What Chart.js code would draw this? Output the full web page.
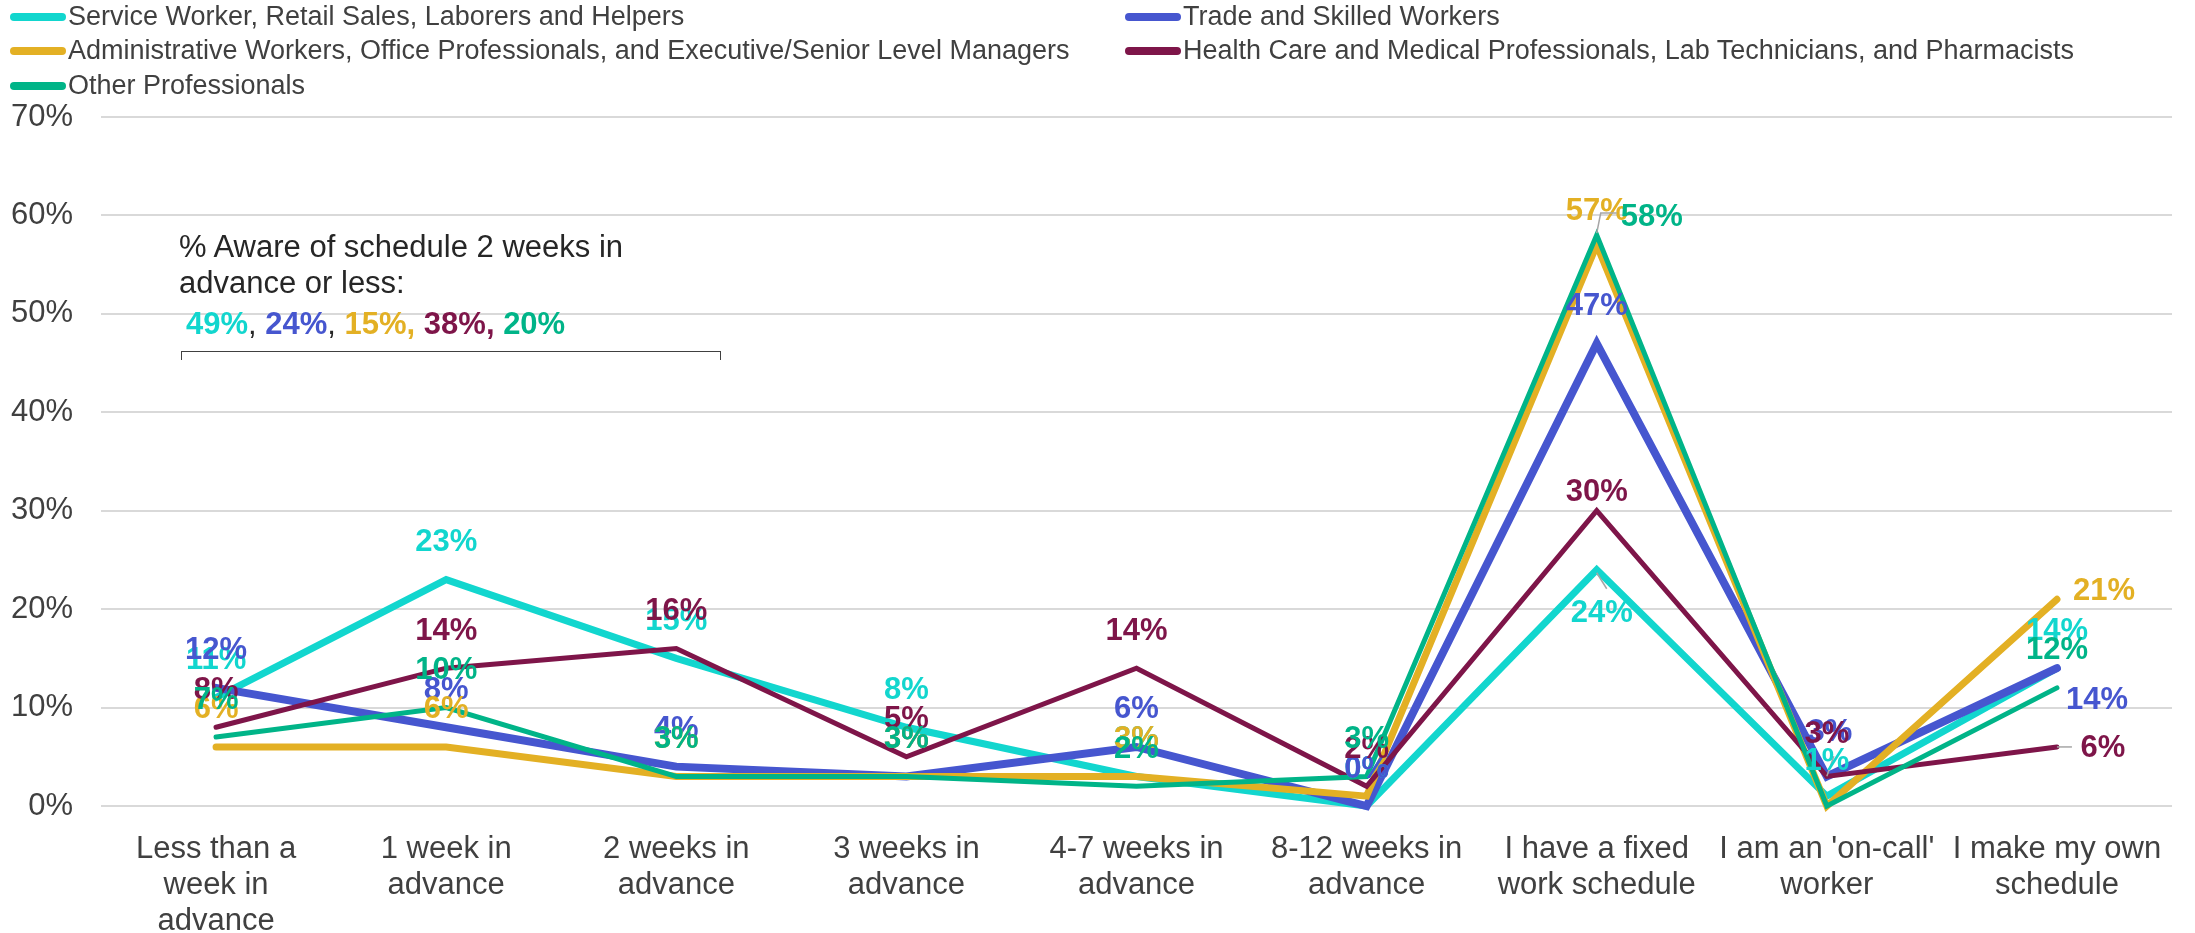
<!DOCTYPE html>
<html>
<head>
<meta charset="utf-8">
<script src="https://cdn.jsdelivr.net/npm/chart.js@4"></script>
<style>
  html, body { margin: 0; padding: 0; background: #ffffff; }
  #wrap { position: relative; width: 2195px; height: 933px; overflow: hidden; font-family: "Liberation Sans", Arial, sans-serif; }
  #chartBox { position: absolute; left: 0; top: 0; width: 2195px; height: 933px; }
  .lg { position: absolute; height: 30px; line-height: 30px; font-size: 27px; color: #404040; white-space: nowrap; }
  .lg .sw { display: inline-block; width: 56px; height: 8px; border-radius: 4px; vertical-align: middle; margin-right: 2px; position: relative; top: -1px; }
  .note { position: absolute; left: 179px; font-size: 31px; color: #262626; white-space: nowrap; height: 36px; line-height: 36px; }
  .note b { font-weight: bold; }
  #bracket { position: absolute; left: 181px; top: 351px; width: 538px; height: 8px; border: 1.5px solid #404040; border-bottom: none; }
</style>
</head>
<body>
<div id="wrap">
  <div id="chartBox"><canvas id="c"></canvas></div>
  <div id="legend"></div>
  <div class="note" style="top:229px">% Aware of schedule 2 weeks in</div>
  <div class="note" style="top:265px">advance or less:</div>
  <div class="note" id="totals" style="top:306px; left:186px"></div>
  <div id="bracket"></div>
</div>
<script>
// ---------- data ----------
const categories = [
  ["Less than a", "week in", "advance"],
  ["1 week in", "advance"],
  ["2 weeks in", "advance"],
  ["3 weeks in", "advance"],
  ["4-7 weeks in", "advance"],
  ["8-12 weeks in", "advance"],
  ["I have a fixed", "work schedule"],
  ["I am an 'on-call'", "worker"],
  ["I make my own", "schedule"]
];
const seriesNames = [
  "Service Worker, Retail Sales, Laborers and Helpers",
  "Trade and Skilled Workers",
  "Administrative Workers, Office Professionals, and Executive/Senior Level Managers",
  "Health Care and Medical Professionals, Lab Technicians, and Pharmacists",
  "Other Professionals"
];
const serviceWorkers     = [11, 23, 15, 8, 3, 0, 24, 1, 14];
const tradeWorkers       = [12, 8, 4, 3, 6, 0, 47, 3, 14];
const adminWorkers       = [6, 6, 3, 3, 3, 1, 57, 0, 21];
const healthCareWorkers  = [8, 14, 16, 5, 14, 2, 30, 3, 6];
const otherProfessionals = [7, 10, 3, 3, 2, 3, 58, 0, 12];
const yTicks = [0, 10, 20, 30, 40, 50, 60, 70];

// ---------- styles ----------
const seriesValues = [serviceWorkers, tradeWorkers, adminWorkers, healthCareWorkers, otherProfessionals];
const colors = ["#12D6CE", "#4656CF", "#E3B024", "#7E1549", "#00B488"];
const widths = [7, 8, 7, 5, 5];
const FONT = '"Liberation Sans", Arial, sans-serif';

// label placement tweaks (dataset-index) -> offsets in px relative to the point
const labelTweaks = {
  "2-5": { hide: true }, "2-7": { hide: true }, "4-7": { hide: true },
  "3-6": { dy: -18 },
  "4-6": { dx: 55, dy: -18, leader: [[0, -2], [4, -22], [20, -22]] },
  "2-6": { dy: -34 },
  "0-6": { dx: 5, dy: 44, leader: [[0, 3], [10, 19]] },
  "2-8": { dx: 47, dy: -8 },
  "1-8": { dx: 40, dy: 32 },
  "3-8": { dx: 46, dy: 2, leader: [[0, 0], [15, 0]] },
  "3-7": { dy: -42 },
  "1-7": { dx: 3, dy: -44 },
  "0-7": { dy: -35, leader: [[0, -20], [7, -40]] }
};

// ---------- legend (HTML) ----------
const legendPos = [[10, 1], [1125, 1], [10, 35], [1125, 35], [10, 70]];
const legendEl = document.getElementById("legend");
seriesNames.forEach((n, i) => {
  const d = document.createElement("div");
  d.className = "lg";
  d.style.left = legendPos[i][0] + "px";
  d.style.top = legendPos[i][1] + "px";
  const sw = document.createElement("span");
  sw.className = "sw";
  sw.style.background = colors[i];
  d.appendChild(sw);
  d.appendChild(document.createTextNode(n));
  legendEl.appendChild(d);
});

// ---------- totals text ----------
const totalsEl = document.getElementById("totals");
seriesValues.forEach((vals, i) => {
  const sum = vals[0] + vals[1] + vals[2];
  const b = document.createElement("b");
  b.style.color = colors[i];
  b.textContent = sum + "%";
  totalsEl.appendChild(b);
  if (i < seriesValues.length - 1) {
    const c = document.createElement(i >= 2 ? "b" : "span");
    c.style.color = i >= 2 ? colors[i] : "#262626";
    c.textContent = ", ";
    totalsEl.appendChild(c);
  }
});

// ---------- data label plugin ----------
const dataLabelPlugin = {
  id: "dataLabels",
  afterDatasetsDraw(chart) {
    const ctx = chart.ctx;
    ctx.save();
    chart.data.datasets.forEach((ds, di) => {
      const meta = chart.getDatasetMeta(di);
      meta.data.forEach((pt, j) => {
        const t = labelTweaks[di + "-" + j] || {};
        if (t.hide) return;
        const dx = t.dx !== undefined ? t.dx : 0;
        const dy = t.dy !== undefined ? t.dy : -37;
        if (t.leader) {
          ctx.beginPath();
          ctx.strokeStyle = "#A6A6A6";
          ctx.lineWidth = 1.5;
          t.leader.forEach((p, k) => {
            if (k === 0) ctx.moveTo(pt.x + p[0], pt.y + p[1]);
            else ctx.lineTo(pt.x + p[0], pt.y + p[1]);
          });
          ctx.stroke();
        }
        ctx.font = "bold 31px " + FONT;
        ctx.fillStyle = colors[di];
        ctx.textAlign = "center";
        ctx.textBaseline = "middle";
        ctx.fillText(ds.data[j] + "%", pt.x + dx, pt.y + dy);
      });
    });
    ctx.restore();
  }
};

// ---------- chart ----------
new Chart(document.getElementById("c"), {
  type: "line",
  data: {
    labels: categories,
    datasets: seriesValues.map((vals, i) => ({
      label: seriesNames[i],
      data: vals,
      borderColor: colors[i],
      backgroundColor: colors[i],
      borderWidth: widths[i],
      borderCapStyle: "round",
      borderJoinStyle: "miter",
      pointRadius: 0,
      pointHoverRadius: 0,
      tension: 0,
      fill: false,
      clip: false,
      order: seriesValues.length - 1 - i
    }))
  },
  options: {
    responsive: true,
    maintainAspectRatio: false,
    devicePixelRatio: 1,
    animation: false,
    events: [],
    layout: { padding: { top: 117, right: 23, bottom: 0, left: 0 } },
    plugins: { legend: { display: false }, tooltip: { enabled: false } },
    scales: {
      x: {
        type: "category",
        offset: true,
        grid: { display: false },
        border: { display: false },
        ticks: {
          autoSkip: false, maxRotation: 0, minRotation: 0, padding: 18,
          color: "#404040",
          font: { family: FONT, size: 31, lineHeight: 1.15 }
        },
        afterFit(scale) { scale.height = 127; }
      },
      y: {
        min: 0, max: 70,
        afterBuildTicks(scale) { scale.ticks = yTicks.map(v => ({ value: v })); },
        grid: { color: "#D9D9D9", lineWidth: 2, drawTicks: false },
        border: { display: false },
        ticks: {
          padding: 28,
          color: "#404040",
          font: { family: FONT, size: 31 },
          callback: v => v + "%"
        },
        afterFit(scale) { scale.width = 101; }
      }
    }
  },
  plugins: [dataLabelPlugin]
});
</script>
</body>
</html>
